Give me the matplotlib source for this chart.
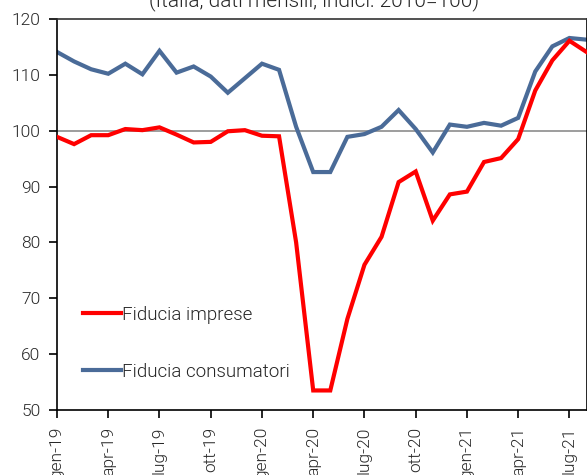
import matplotlib
matplotlib.use("Agg")
import matplotlib.pyplot as plt

months = ["gen-19","feb-19","mar-19","apr-19","mag-19","giu-19","lug-19","ago-19","set-19","ott-19","nov-19","dic-19",
          "gen-20","feb-20","mar-20","apr-20","mag-20","giu-20","lug-20","ago-20","set-20","ott-20","nov-20","dic-20",
          "gen-21","feb-21","mar-21","apr-21","mag-21","giu-21","lug-21","ago-21"]

imprese = [98.9, 97.6, 99.2, 99.2, 100.3, 100.1, 100.6, 99.3, 97.9, 98.0, 99.9, 100.1,
           99.1, 99.0, 80.0, 53.5, 53.5, 66.3, 76.0, 81.0, 90.8, 92.7, 83.9, 88.6,
           89.1, 94.4, 95.1, 98.5, 107.2, 112.6, 116.1, 114.1]

consumatori = [114.1, 112.4, 111.0, 110.2, 112.0, 110.1, 114.3, 110.4, 111.5, 109.7, 106.8, 109.4,
               112.0, 110.9, 100.7, 92.6, 92.6, 98.9, 99.4, 100.7, 103.7, 100.3, 96.1, 101.1,
               100.7, 101.4, 100.9, 102.3, 110.6, 115.1, 116.6, 116.3]

tick_labels = months[::3]
title = "(Italia, dati mensili, indici: 2010=100)"

plt.rcParams['font.family'] = ['Roboto', 'DejaVu Sans']
plt.rcParams['font.weight'] = 300

fig = plt.figure(figsize=(5.87, 4.75), dpi=100)
ax = fig.add_axes([57/587, 1-410/475, (586.5-57)/587, (410-19)/475])

x = list(range(len(months)))
ax.axhline(100, color='#8c8c8c', lw=1.2, zorder=1)
ax.plot(x, imprese, color='#ff0000', lw=3.0, label='Fiducia imprese', zorder=3, solid_joinstyle='miter')
ax.plot(x, consumatori, color='#4a6b98', lw=3.0, label='Fiducia consumatori', zorder=2, solid_joinstyle='miter')

ax.set_xlim(0, 31)
ax.set_ylim(50, 120)
ax.set_yticks(range(50, 121, 10))
ax.set_xticks(x[::3])
ax.set_xticklabels(tick_labels, rotation=90)

for s in ax.spines.values():
    s.set_color('#000000')
    s.set_linewidth(1.2)
ax.spines['top'].set_color('#333333')
ax.tick_params(axis='both', direction='out', length=6, width=1.2, color='#000000',
               labelsize=12.5, labelcolor='#262626')
ax.tick_params(axis='x', pad=6, labelsize=12.5)
ax.tick_params(axis='y', pad=6)

leg = ax.legend(loc='lower left', bbox_to_anchor=(0.018, 0.031), frameon=False,
                fontsize=13.5, handlelength=2.03, handletextpad=0.05, labelspacing=2.09,
                labelcolor='#262626')

fig.text(314/587, 1-6/475, title, ha='center', va='baseline', fontsize=15, color='#262626')

fig.savefig('out.png', dpi=100)
